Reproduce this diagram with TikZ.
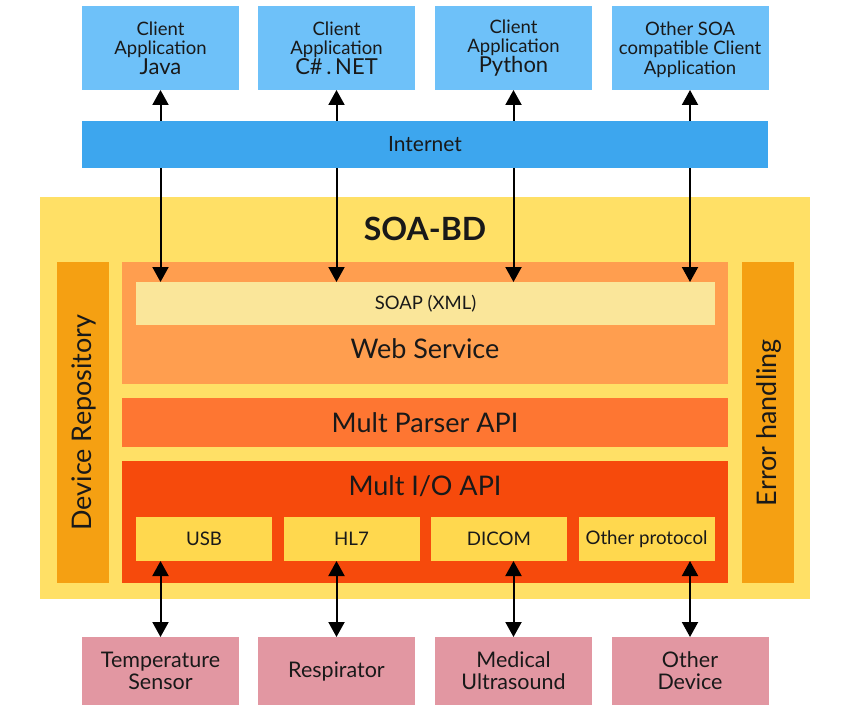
\documentclass[tikz,border=0pt]{standalone}
\usepackage{fontspec}
\setmainfont{Lato}
\usetikzlibrary{arrows.meta}
\definecolor{cblue}{HTML}{6EC1F9}
\definecolor{inetblue}{HTML}{3DA6EE}
\definecolor{soayel}{HTML}{FFE066}
\definecolor{sideor}{HTML}{F5A012}
\definecolor{webor}{HTML}{FF9E4F}
\definecolor{soapyel}{HTML}{FAE69A}
\definecolor{parsor}{HTML}{FE7632}
\definecolor{ioor}{HTML}{F64A0C}
\definecolor{protyel}{HTML}{FFD84E}
\definecolor{devpink}{HTML}{E297A2}
\tikzset{
  blk/.style={inner sep=0pt, outer sep=0pt, align=center, text=black!90},
  clientbox/.style={blk, fill=cblue, minimum width=157pt, minimum height=84pt, font=\fontsize{18.5}{19.5}\selectfont},
  devbox/.style={blk, fill=devpink, minimum width=157pt, minimum height=68pt, font=\fontsize{21.5}{22}\selectfont},
  protbox/.style={blk, fill=protyel, minimum width=136pt, minimum height=44pt, font=\fontsize{18.7}{22}\selectfont},
  sidebox/.style={blk, fill=sideor, minimum width=52pt, minimum height=321pt},
  layerbox/.style={blk, minimum width=606pt},
  biglbl/.style={blk, font=\fontsize{27}{30}\selectfont},
  arr/.style={line width=2pt, -{Triangle[width=16pt,length=15pt]}},
}
\begin{document}
\begin{tikzpicture}[x=1pt,y=-1pt]
\useasboundingbox (0,0) rectangle (850,714);
% client applications
\node[clientbox] (java) at (160.5,48) {Client\\Application\\{\fontsize{22}{20}\selectfont Java}};
\node[clientbox] (csharp) at (336.5,48) {Client\\Application\\{\fontsize{22}{20}\selectfont C\#\,.\,NET}};
\node[clientbox] (python) at (513.5,48) {Client\\Application\\{\fontsize{22}{20}\selectfont Python}};
\node[clientbox] (otherclient) at (690,48) {};
\node[blk, font=\fontsize{18.5}{19.5}\selectfont] (otherclientlbl) at (690,49.5) {Other SOA\\compatible Client\\Application};
% internet
\node[blk, fill=inetblue, minimum width=686pt, minimum height=47pt, font=\fontsize{21}{24}\selectfont] (internet) at (425,144.5) {Internet};
% SOA-BD frame
\node[blk, fill=soayel, minimum width=770pt, minimum height=402pt] (soabd) at (425,398) {};
\node[blk, font=\fontsize{32}{36}\selectfont\bfseries] (soatitle) at (425,229) {SOA-BD};
\node[sidebox] (devrepo) at (83,422.5) {};
\node[biglbl, rotate=90] (devrepolbl) at (84,422.5) {Device Repository};
\node[sidebox] (errh) at (768,422.5) {};
\node[biglbl, rotate=90] (errhlbl) at (769,422.5) {Error handling};
% web service
\node[layerbox, fill=webor, minimum height=122pt] (web) at (425,323) {};
\node[blk, fill=soapyel, minimum width=579pt, minimum height=43pt, font=\fontsize{18.5}{21}\selectfont] (soap) at (425.5,303.5) {SOAP (XML)};
\node[biglbl] (weblbl) at (425,349) {Web Service};
% parser
\node[layerbox, fill=parsor, minimum height=49pt, font=\fontsize{27}{30}\selectfont] (parser) at (425,422.5) {Mult Parser API};
% I/O
\node[layerbox, fill=ioor, minimum height=122pt] (io) at (425,522) {};
\node[biglbl] (iolbl) at (425,486) {Mult I/O API};
\node[protbox] (usb) at (204,539) {USB};
\node[protbox] (hl7) at (351.5,539) {HL7};
\node[protbox] (dicom) at (499,539) {DICOM};
\node[protbox] (otherprot) at (646.5,539) {Other protocol};
% devices
\node[devbox] (temp) at (160.5,671) {Temperature\\Sensor};
\node[devbox] (resp) at (336.5,671) {Respirator};
\node[devbox] (ultra) at (513.5,671) {Medical\\Ultrasound};
\node[devbox] (otherdev) at (690,671) {Other\\Device};
% arrows: internet <-> clients, internet -> SOAP
\foreach \c in {java,csharp,python,otherclient}{
  \draw[arr] (internet.north -| \c.south) -- (\c.south);
  \draw[arr] (internet.south -| \c.south) -- (soap.north -| \c.south);
}
% arrows: devices <-> protocols
\foreach \d in {temp,resp,ultra,otherdev}{
  \draw[arr] (soabd.south -| \d.north) -- (usb.south -| \d.north);
  \draw[arr] (soabd.south -| \d.north) -- (\d.north);
}
\end{tikzpicture}
\end{document}
